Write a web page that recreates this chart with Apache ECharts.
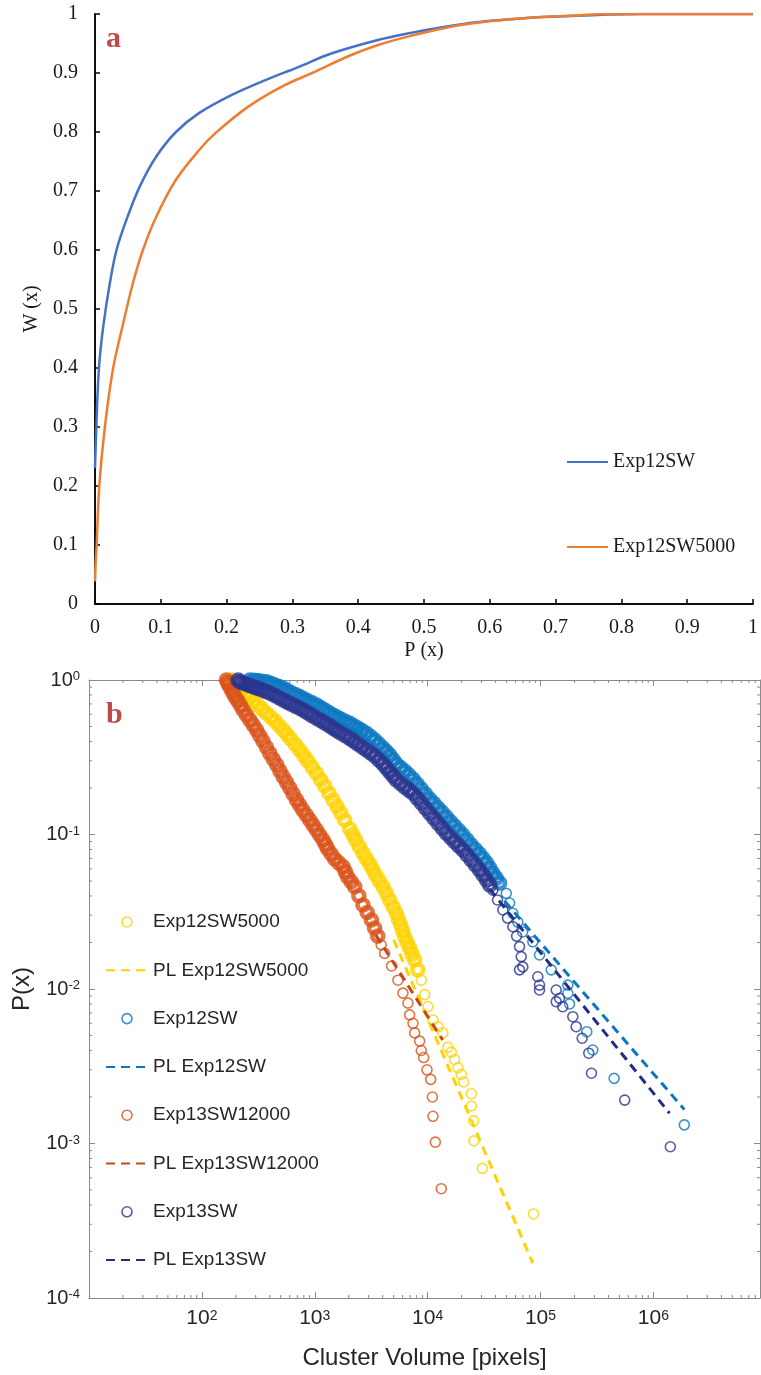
<!DOCTYPE html>
<html>
<head>
<meta charset="utf-8">
<script src="https://cdn.jsdelivr.net/npm/echarts@6/dist/echarts.min.js"></script>
<style>
  html, body { margin: 0; padding: 0; background: #fff; }
  #chart { width: 761px; height: 1375px; }
</style>
</head>
<body>
<div id="chart"></div>
<script>
// ---- panel a : W(x) against P(x) ----
const exp12swCurve = [[0,0.23],[0.002,0.30],[0.006,0.40],[0.0125,0.47],[0.0226,0.544],[0.0327,0.60],[0.0477,0.651],[0.0678,0.707],[0.0929,0.758],[0.123,0.80],[0.158,0.832],[0.208,0.863],[0.259,0.888],[0.309,0.91],[0.359,0.933],[0.43,0.956],[0.48,0.968],[0.53,0.978],[0.58,0.986],[0.63,0.991],[0.68,0.995],[0.73,0.997],[0.78,0.999],[0.83,1],[1,1]];
const exp12sw5000Curve = [[0,0.038],[0.001,0.07],[0.0025,0.10],[0.0065,0.20],[0.015,0.30],[0.0276,0.40],[0.0427,0.475],[0.0577,0.544],[0.0728,0.60],[0.0929,0.656],[0.123,0.719],[0.158,0.769],[0.183,0.798],[0.233,0.843],[0.284,0.877],[0.334,0.902],[0.384,0.928],[0.429,0.947],[0.48,0.963],[0.53,0.976],[0.58,0.985],[0.63,0.991],[0.68,0.995],[0.73,0.9975],[0.78,1],[1,1]];

// ---- panel b : P(x) against cluster volume ----
const exp12sw5000Pts = [[185,1.0],[189,0.975],[203,0.928],[217,0.894],[231,0.861],[248,0.82],[266,0.78],[289,0.733],[313,0.689],[342,0.648],[374,0.609],[407,0.575],[443,0.543],[482,0.508],[525,0.475],[567,0.444],[613,0.415],[672,0.382],[736,0.352],[799,0.324],[867,0.299],[947,0.273],[1035,0.249],[1126,0.2265],[1225,0.206],[1334,0.1855],[1453,0.167],[1571,0.152],[1698,0.138],[1841,0.124],[2040,0.109],[2168,0.1],[2305,0.092],[2483,0.0833],[2675,0.0755],[2865,0.0697],[3068,0.0644],[3262,0.0594],[3468,0.0547],[3734,0.0501],[4021,0.0459],[4307,0.0416],[4613,0.0377],[4936,0.0341],[5282,0.0309],[5520,0.0283],[5768,0.026],[6006,0.0238],[6253,0.0218],[6581,0.02],[6927,0.0184],[7292,0.0168],[7677,0.0154],[8161,0.0133],[8790,0.0114],[9405,0.0092],[10070,0.0077],[11150,0.0063],[12340,0.0057],[13650,0.0052],[15130,0.0042],[16210,0.0039],[17340,0.0035],[18550,0.0031],[19860,0.0028],[20830,0.0025],[24370,0.0021],[24370,0.00175],[25530,0.0014],[25700,0.00104],[30480,0.00069],[86700,0.00035]];
const exp12swPts = [[266,1.0],[289,0.995],[313,0.99],[342,0.982],[374,0.975],[407,0.951],[443,0.928],[482,0.906],[525,0.884],[567,0.857],[613,0.83],[672,0.805],[736,0.78],[799,0.757],[867,0.734],[947,0.711],[1035,0.689],[1126,0.6635],[1225,0.639],[1334,0.616],[1453,0.594],[1571,0.576],[1698,0.559],[1861,0.541],[2040,0.524],[2214,0.506],[2404,0.489],[2625,0.47],[2866,0.452],[3120,0.43],[3396,0.409],[3695,0.385],[4021,0.363],[4307,0.3445],[4613,0.327],[4936,0.306],[5282,0.286],[5747,0.271],[6253,0.2576],[6809,0.243],[7415,0.2288],[8073,0.212],[8790,0.197],[9570,0.183],[10420,0.1698],[11340,0.159],[12340,0.1485],[13445,0.139],[14650,0.1298],[15940,0.121],[17340,0.1135],[18860,0.106],[20520,0.0993],[22360,0.0921],[24370,0.0855],[26510,0.08],[28840,0.0748],[30980,0.07],[33270,0.0654],[35480,0.0606],[37840,0.0561],[40510,0.0522],[43370,0.0485],[49740,0.0416],[53220,0.036],[56920,0.0309],[62940,0.0271],[69340,0.0234],[85480,0.0202],[97970,0.0166],[124400,0.0133],[174500,0.0106],[174500,0.00938],[180700,0.008],[257000,0.00529],[290300,0.00403],[449000,0.00264],[1879000,0.00132]];
const exp13sw12000Pts = [[165,1.0],[169,0.963],[173,0.928],[181,0.872],[189,0.82],[198,0.774],[208.5,0.731],[220,0.683],[232,0.639],[248,0.593],[266,0.551],[285,0.512],[305,0.475],[325,0.4375],[347,0.403],[373,0.367],[400,0.335],[429,0.307],[461,0.282],[492,0.258],[525,0.2366],[562,0.2175],[601,0.2],[643,0.183],[689,0.167],[734,0.155],[783,0.144],[841,0.1336],[903,0.124],[967,0.115],[1035,0.107],[1107,0.0992],[1185,0.092],[1243,0.0861],[1303,0.0806],[1399,0.0748],[1503,0.0694],[1636,0.0655],[1780,0.0619],[1867,0.0573],[1959,0.0531],[2104,0.0494],[2259,0.0459],[2458,0.0401],[2675,0.035],[2914,0.0313],[3174,0.028],[3387,0.0248],[3614,0.022],[3877,0.0193],[4160,0.017],[4797,0.0141],[5456,0.0114],[6042,0.0094],[6693,0.0081],[6927,0.0068],[7415,0.006],[7677,0.0052],[8496,0.0046],[8790,0.004],[9220,0.0036],[9865,0.003],[10640,0.0026],[11020,0.002],[11150,0.0015],[11700,0.00102],[13210,0.00051]];
const exp13swPts = [[209.5,1.0],[216.7,0.975],[230,0.958],[245,0.942],[264,0.923],[284.5,0.905],[305,0.889],[326,0.874],[349,0.857],[374,0.84],[407,0.817],[443,0.794],[482,0.768],[525,0.742],[567,0.72],[613,0.699],[672,0.677],[736,0.656],[799,0.634],[867,0.612],[947,0.588],[1035,0.565],[1126,0.546],[1225,0.527],[1334,0.507],[1453,0.487],[1571,0.47],[1698,0.454],[1861,0.436],[2040,0.419],[2214,0.402],[2404,0.385],[2625,0.368],[2866,0.352],[3120,0.337],[3396,0.322],[3695,0.3035],[4021,0.286],[4307,0.2695],[4613,0.254],[4936,0.239],[5282,0.2253],[5747,0.214],[6253,0.203],[6809,0.1937],[7415,0.1848],[8073,0.172],[8790,0.16],[9570,0.148],[10420,0.1372],[11340,0.1273],[12340,0.1181],[13445,0.1096],[14650,0.1018],[15940,0.0956],[17340,0.0898],[18860,0.0844],[20520,0.0794],[22360,0.0737],[24370,0.0684],[26510,0.0635],[28840,0.0589],[30980,0.0547],[33270,0.0508],[35480,0.0471],[37840,0.0437],[41600,0.0377],[46420,0.0325],[51050,0.0288],[56920,0.0253],[61380,0.022],[65190,0.0188],[67450,0.0162],[69680,0.0139],[65190,0.0133],[94650,0.012],[97970,0.0106],[97970,0.00985],[137800,0.00985],[137800,0.00828],[147300,0.00871],[157400,0.00768],[193300,0.00662],[207100,0.0057],[233900,0.0048],[267600,0.00384],[282700,0.00285],[557300,0.00191],[1413000,0.000953]];

// power-law fits, end points
const pl12sw5000 = [[5000,0.0208],[85500,0.000168]];
const pl12sw = [[48000,0.0371],[1880000,0.00166]];
const pl13sw12000 = [[3470,0.0224],[13600,0.00468]];
const pl13sw = [[35400,0.0444],[1390000,0.00157]];

const serif = "'Liberation Serif', 'Times New Roman', serif";
const sans = "'Liberation Sans', Arial, sans-serif";
const xMaxB = 8.8e6;

// minor tick positions of the log axes (2..9 in each decade)
const xMinorTicks = [];
const yMinorTicks = [];
for (let e = 1; e <= 6; e++) for (let k = 2; k <= 9; k++) if (k * Math.pow(10, e) < xMaxB) xMinorTicks.push(k * Math.pow(10, e));
for (let e = -4; e <= -1; e++) for (let k = 2; k <= 9; k++) yMinorTicks.push(k * Math.pow(10, e));

const chart = echarts.init(document.getElementById('chart'));

const powLabel = v => '{b|10}{s|' + Math.round(Math.log10(v)) + '}';
const powRich = (big, small) => ({
  b: { fontFamily: sans, fontSize: big, color: '#262626', lineHeight: 20, padding: [8, 0, 0, 0], verticalAlign: 'bottom' },
  s: { fontFamily: sans, fontSize: small, color: '#262626', lineHeight: 13, verticalAlign: 'top' }
});

const axisA = { lineStyle: { color: '#000', width: 1.5 } };
const axisB = { lineStyle: { color: '#8a8a8a', width: 1 } };

// rings in the crowded upper part of a curve are drawn heavier, like the overlapping markers
function ringSeries(name, pts, color, crowdedAbove) {
  return {
    name, type: 'scatter', xAxisIndex: 2, yAxisIndex: 2, symbol: 'circle', symbolSize: 10, clip: false,
    data: pts.map(p => p[1] >= crowdedAbove ? { value: p, symbolSize: 11, itemStyle: { borderWidth: 4.6 } } : p),
    itemStyle: { color: 'rgba(255,255,255,0)', borderColor: color, borderWidth: 1.6 },
    emphasis: { disabled: true }
  };
}
function fitSeries(name, data, color) {
  return {
    name, type: 'line', xAxisIndex: 2, yAxisIndex: 2, data, symbol: 'none', showSymbol: false,
    lineStyle: { color, width: 3, type: [9, 6] }, itemStyle: { color }, emphasis: { disabled: true }
  };
}
const lineOnly = name => ({ name, itemStyle: { opacity: 0 } });

const option = {
  animation: false,
  backgroundColor: '#fff',
  grid: [
    { left: 95, top: 14, width: 664, height: 590 },
    { left: 89, top: 680, width: 671, height: 618 }
  ],
  xAxis: [
    { type: 'value', gridIndex: 0, min: 0, max: 1, interval: 0.1,
      axisLine: axisA, axisTick: { inside: true, length: 5, lineStyle: { color: '#000', width: 1.5 } },
      axisLabel: { fontFamily: serif, fontSize: 20, color: '#1a1a1a', margin: 14 },
      splitLine: { show: false },
      name: 'P (x)', nameLocation: 'middle', nameGap: 37,
      nameTextStyle: { fontFamily: serif, fontSize: 20, color: '#1a1a1a' } },
    { type: 'value', gridIndex: 0, position: 'top', min: 0, max: 1,
      axisLine: axisA, axisTick: { show: false }, axisLabel: { show: false }, splitLine: { show: false } },
    { type: 'log', gridIndex: 1, min: 10, max: xMaxB, logBase: 10,
      axisLine: axisB, axisTick: { inside: true, length: 6, lineStyle: { color: '#8a8a8a' } },
      axisLabel: { formatter: powLabel, rich: powRich(21, 14), margin: 11, showMinLabel: false, showMaxLabel: false },
      splitLine: { show: false },
      name: 'Cluster Volume [pixels]', nameLocation: 'middle', nameGap: 48,
      nameTextStyle: { fontFamily: sans, fontSize: 24, color: '#262626' } },
    { type: 'log', gridIndex: 1, position: 'top', min: 10, max: xMaxB, logBase: 10,
      axisLine: axisB, axisTick: { inside: true, length: 6, lineStyle: { color: '#8a8a8a' } },
      axisLabel: { show: false }, splitLine: { show: false } }
  ],
  yAxis: [
    { type: 'value', gridIndex: 0, min: 0, max: 1, interval: 0.1,
      axisLine: axisA, axisTick: { inside: true, length: 5, lineStyle: { color: '#000', width: 1.5 } },
      axisLabel: { fontFamily: serif, fontSize: 20, color: '#1a1a1a', margin: 17 },
      splitLine: { show: false },
      name: 'W (x)', nameLocation: 'middle', nameGap: 41,
      nameTextStyle: { fontFamily: serif, fontSize: 20, color: '#1a1a1a' } },
    { type: 'value', gridIndex: 0, position: 'right', min: 0, max: 1,
      axisLine: axisA, axisTick: { show: false }, axisLabel: { show: false }, splitLine: { show: false } },
    { type: 'log', gridIndex: 1, min: 1e-4, max: 1, logBase: 10,
      axisLine: axisB, axisTick: { inside: true, length: 6, lineStyle: { color: '#8a8a8a' } },
      axisLabel: { formatter: powLabel, rich: powRich(20, 13), margin: 9 },
      splitLine: { show: false },
      name: 'P(x)', nameLocation: 'middle', nameGap: 55,
      nameTextStyle: { fontFamily: sans, fontSize: 24, color: '#262626' } },
    { type: 'log', gridIndex: 1, position: 'right', min: 1e-4, max: 1, logBase: 10,
      axisLine: axisB, axisTick: { inside: true, length: 6, lineStyle: { color: '#8a8a8a' } },
      axisLabel: { show: false }, splitLine: { show: false } }
  ],
  legend: [
    { data: [lineOnly('Exp12SW'), lineOnly('Exp12SW5000')], orient: 'vertical', left: 566, top: 451, padding: 0,
      itemWidth: 41, itemHeight: 14, itemGap: 63, selectedMode: false,
      textStyle: { fontFamily: serif, fontSize: 20, color: '#1a1a1a', lineHeight: 22 } },
    { data: ['Exp12SW5000 ', lineOnly('PL Exp12SW5000'), 'Exp12SW ', lineOnly('PL Exp12SW'), 'Exp13SW12000', lineOnly('PL Exp13SW12000'), 'Exp13SW', lineOnly('PL Exp13SW')],
      orient: 'vertical', left: 105, top: 912, padding: 0, itemWidth: 42, itemHeight: 10, itemGap: 28.3, selectedMode: false,
      itemStyle: { borderWidth: 1.6 },
      textStyle: { fontFamily: sans, fontSize: 19, color: '#262626', lineHeight: 20 },
      formatter: n => n.trim() }
  ],
  graphic: [
    { type: 'text', left: 106, top: 24, style: { text: 'a', font: 'bold 30px ' + serif, fill: '#BE4B48' } },
    { type: 'text', left: 106, top: 700, style: { text: 'b', font: 'bold 30px ' + serif, fill: '#BE4B48' } }
  ],
  series: [
    { name: 'Exp12SW', type: 'line', xAxisIndex: 0, yAxisIndex: 0, data: exp12swCurve, showSymbol: false, symbol: 'none',
      smooth: 0.35, lineStyle: { color: '#4472C4', width: 2.5 }, itemStyle: { color: '#4472C4' } },
    { name: 'Exp12SW5000', type: 'line', xAxisIndex: 0, yAxisIndex: 0, data: exp12sw5000Curve, showSymbol: false, symbol: 'none',
      smooth: 0.35, lineStyle: { color: '#ED7D31', width: 2.5 }, itemStyle: { color: '#ED7D31' } },

    ringSeries('Exp12SW5000 ', exp12sw5000Pts, '#FFD200', 0.012),
    fitSeries('PL Exp12SW5000', pl12sw5000, '#FFD200'),
    ringSeries('Exp12SW ', exp12swPts, '#0B77C2', 0.045),
    fitSeries('PL Exp12SW', pl12sw, '#0B77C2'),
    ringSeries('Exp13SW12000', exp13sw12000Pts, '#D95319', 0.02),
    fitSeries('PL Exp13SW12000', pl13sw12000, '#C8481A'),
    ringSeries('Exp13SW', exp13swPts, '#2A358F', 0.045),
    fitSeries('PL Exp13SW', pl13sw, '#222D85'),

    { type: 'custom', xAxisIndex: 2, yAxisIndex: 2, data: [[100, 0.1]], silent: true, clip: false,
      renderItem: (params, api) => {
        const cs = params.coordSys;
        const left = cs.x, right = cs.x + cs.width, top = cs.y, bottom = cs.y + cs.height;
        const children = [];
        const seg = (x1, y1, x2, y2) => children.push({ type: 'line', shape: { x1, y1, x2, y2 }, style: { stroke: '#8a8a8a', lineWidth: 1 } });
        xMinorTicks.forEach(v => { const x = api.coord([v, 0.1])[0]; seg(x, bottom, x, bottom - 3); seg(x, top, x, top + 3); });
        yMinorTicks.forEach(v => { const y = api.coord([100, v])[1]; seg(left, y, left + 3, y); seg(right, y, right - 3, y); });
        return { type: 'group', children };
      } }
  ]
};

chart.setOption(option);
window.addEventListener('resize', () => chart.resize());
</script>
</body>
</html>
